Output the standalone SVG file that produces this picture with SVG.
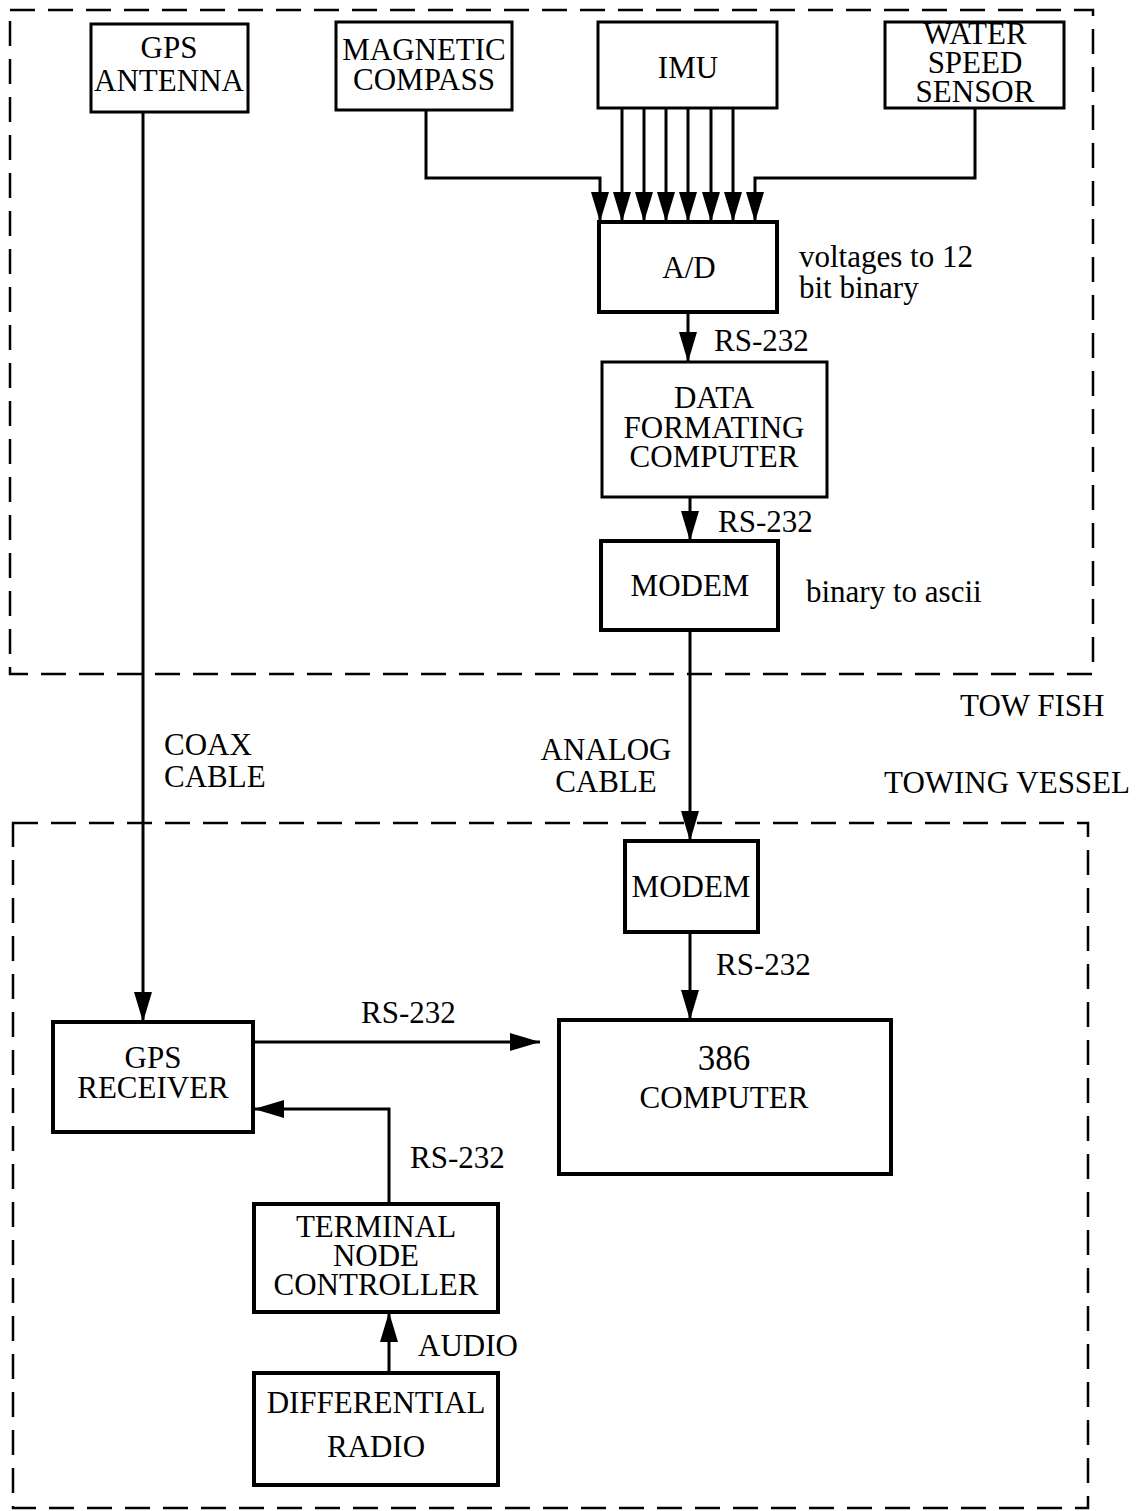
<svg xmlns="http://www.w3.org/2000/svg" width="1138" height="1511" viewBox="0 0 1138 1511">
<style>
  text { font-family: "Liberation Serif", "Times New Roman", serif; font-size: 31px; fill: #000; }
  .c { text-anchor: middle; }
  .box { fill: #fff; stroke: #000; stroke-width: 3; }
  .thick { stroke-width: 4; }
  .dash { fill: none; stroke: #000; stroke-width: 2.5; stroke-dasharray: 25 13; }
  .wire { fill: none; stroke: #000; stroke-width: 3; }
</style>
<defs>
  <marker id="ah" markerUnits="userSpaceOnUse" markerWidth="30" markerHeight="18" refX="30" refY="9" orient="auto">
    <path d="M0,0 L30,9 L0,18 z" fill="#000"/>
  </marker>
</defs>
<rect width="1138" height="1511" fill="#fff"/>

<g id="regions">
  <rect class="dash" x="10" y="10" width="1083" height="664"/>
  <rect class="dash" x="13" y="823" width="1075" height="685"/>
  <text x="960" y="716">TOW FISH</text>
  <text x="884" y="793">TOWING VESSEL</text>
</g>

<g id="connectors">
  <path class="wire" d="M426,110 V178 H600 V222" marker-end="url(#ah)"/>
  <path class="wire" d="M622,108 V222" marker-end="url(#ah)"/>
  <path class="wire" d="M644,108 V222" marker-end="url(#ah)"/>
  <path class="wire" d="M666,108 V222" marker-end="url(#ah)"/>
  <path class="wire" d="M688,108 V222" marker-end="url(#ah)"/>
  <path class="wire" d="M711,108 V222" marker-end="url(#ah)"/>
  <path class="wire" d="M733,108 V222" marker-end="url(#ah)"/>
  <path class="wire" d="M975,108 V178 H755 V222" marker-end="url(#ah)"/>
  <path class="wire" d="M688,312 V362" marker-end="url(#ah)"/>
  <text x="714" y="351">RS-232</text>
  <path class="wire" d="M690,497 V541" marker-end="url(#ah)"/>
  <text x="718" y="532">RS-232</text>
  <path class="wire" d="M690,630 V841" marker-end="url(#ah)"/>
  <text class="c" x="606" y="760">ANALOG</text>
  <text class="c" x="606" y="792">CABLE</text>
  <path class="wire" d="M143,112 V1022" marker-end="url(#ah)"/>
  <text x="164" y="755">COAX</text>
  <text x="164" y="787">CABLE</text>
  <path class="wire" d="M690,932 V1020" marker-end="url(#ah)"/>
  <text x="716" y="975">RS-232</text>
  <path class="wire" d="M253,1042 H540" marker-end="url(#ah)"/>
  <text x="361" y="1023">RS-232</text>
  <path class="wire" d="M389,1204 V1109 H254" marker-end="url(#ah)"/>
  <text x="410" y="1168">RS-232</text>
  <path class="wire" d="M389,1373 V1312" marker-end="url(#ah)"/>
  <text x="418" y="1356">AUDIO</text>
</g>

<g id="gps-antenna">
  <rect class="box" x="91" y="24" width="157" height="88"/>
  <text class="c" x="169" y="58">GPS</text>
  <text class="c" x="169" y="91">ANTENNA</text>
</g>
<g id="magnetic-compass">
  <rect class="box" x="336" y="22" width="176" height="88"/>
  <text class="c" x="424" y="60">MAGNETIC</text>
  <text class="c" x="424" y="90">COMPASS</text>
</g>
<g id="imu">
  <rect class="box" x="598" y="22" width="179" height="86"/>
  <text class="c" x="688" y="78">IMU</text>
</g>
<g id="water-speed-sensor">
  <rect class="box" x="885" y="22" width="179" height="86"/>
  <text class="c" x="975" y="44">WATER</text>
  <text class="c" x="975" y="73">SPEED</text>
  <text class="c" x="975" y="102">SENSOR</text>
</g>
<g id="ad">
  <rect class="box thick" x="599" y="222" width="178" height="90"/>
  <text class="c" x="689" y="278">A/D</text>
  <text x="799" y="267">voltages to 12</text>
  <text x="799" y="298">bit binary</text>
</g>
<g id="data-formating-computer">
  <rect class="box" x="602" y="362" width="225" height="135"/>
  <text class="c" x="714" y="408">DATA</text>
  <text class="c" x="714" y="438">FORMATING</text>
  <text class="c" x="714" y="467">COMPUTER</text>
</g>
<g id="modem-fish">
  <rect class="box thick" x="601" y="541" width="177" height="89"/>
  <text class="c" x="690" y="596">MODEM</text>
  <text x="806" y="602">binary to ascii</text>
</g>
<g id="modem-vessel">
  <rect class="box thick" x="625" y="841" width="133" height="91"/>
  <text class="c" x="691" y="897">MODEM</text>
</g>
<g id="computer-386">
  <rect class="box thick" x="559" y="1020" width="332" height="154"/>
  <text class="c" x="724" y="1070" style="font-size:35px">386</text>
  <text class="c" x="724" y="1108">COMPUTER</text>
</g>
<g id="gps-receiver">
  <rect class="box thick" x="53" y="1022" width="200" height="110"/>
  <text class="c" x="153" y="1068">GPS</text>
  <text class="c" x="153" y="1098">RECEIVER</text>
</g>
<g id="terminal-node-controller">
  <rect class="box thick" x="254" y="1204" width="244" height="108"/>
  <text class="c" x="376" y="1237">TERMINAL</text>
  <text class="c" x="376" y="1266">NODE</text>
  <text class="c" x="376" y="1295">CONTROLLER</text>
</g>
<g id="differential-radio">
  <rect class="box thick" x="254" y="1373" width="244" height="112"/>
  <text class="c" x="376" y="1413">DIFFERENTIAL</text>
  <text class="c" x="376" y="1457">RADIO</text>
</g>
</svg>
